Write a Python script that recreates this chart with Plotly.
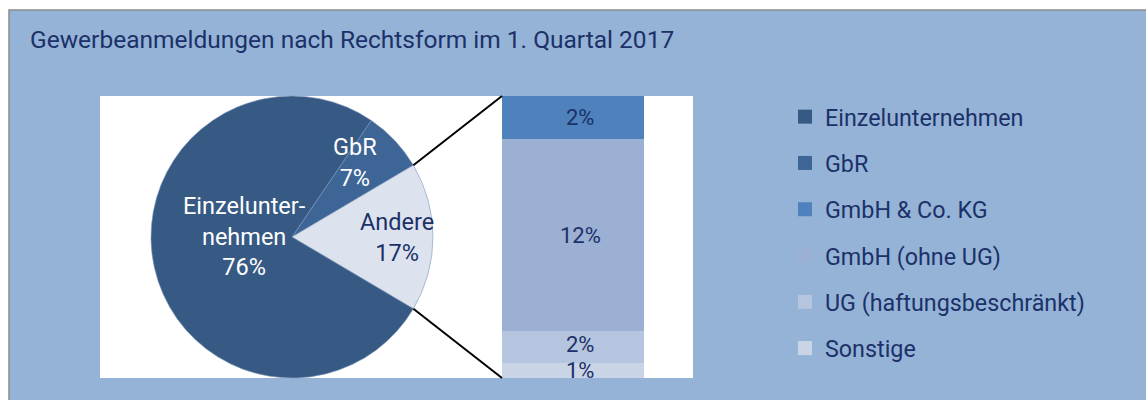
import math
import plotly.graph_objects as go

W, H = 1146, 400

# ---------------- data ----------------
pie_labels = ["Einzelunternehmen", "GbR", "Andere"]
pie_values = [76, 7, 17]
pie_texts = ["Einzelunter-<br>nehmen<br>76%", "GbR<br>7%", "Andere<br>17%"]

bar_labels = ["GmbH & Co. KG", "GmbH (ohne UG)", "UG (haftungsbeschränkt)", "Sonstige"]
bar_values = [2.6, 11.5, 1.9, 0.9]
bar_texts = ["2%", "12%", "2%", "1%"]

legend_labels = ["Einzelunternehmen", "GbR", "GmbH & Co. KG", "GmbH (ohne UG)",
                 "UG (haftungsbeschränkt)", "Sonstige"]
title_text = "Gewerbeanmeldungen nach Rechtsform im 1. Quartal 2017"

# ---------------- styles ----------------
NAVY = "#1B3168"
PANEL = "#95B3D7"
FONT = "Roboto, Open Sans, sans-serif"
pie_colors = ["#365A84", "#3D6596", "#DCE3EF"]
bar_colors = ["#4F81BD", "#9BB0D2", "#B6C5DF", "#CAD4E7"]
legend_colors = pie_colors[:2] + bar_colors
pie_text_colors = ["white", "white", NAVY]
bar_label_shift = [0, 0, 3, 0]


def px(x):
    return x / W


def py(y):
    return 1 - y / H


# geometry (pixels)
PIE_X0, PIE_X1, PIE_Y0, PIE_Y1 = 151, 433, 96, 378
BAR_X0, BAR_X1 = 502, 644

fig = go.Figure()

# rotation so that "Andere" is centred at 3 o'clock (clockwise: GbR, Andere, Einzel)
tot = sum(pie_values)
andere_frac = pie_values[2] / tot
gbr_frac = pie_values[1] / tot
rotation = 90 - 360 * (andere_frac / 2 + gbr_frac)
order = [1, 2, 0]
fig.add_trace(go.Pie(
    labels=[pie_labels[i] for i in order],
    values=[pie_values[i] for i in order],
    marker=dict(colors=[pie_colors[i] for i in order],
                line=dict(color="#7F97BA", width=0.6)),
    sort=False, direction="clockwise", rotation=rotation,
    textinfo="none", showlegend=False, hoverinfo="label+percent",
    domain=dict(x=[px(PIE_X0), px(PIE_X1)], y=[py(PIE_Y1), py(PIE_Y0)]),
))

annotations = []

# stacked bar (bottom to top), labels at segment centres in data coordinates
base = 0.0
for i in reversed(range(len(bar_labels))):
    fig.add_trace(go.Bar(
        x=[0], y=[bar_values[i]], width=1, name=bar_labels[i],
        marker=dict(color=bar_colors[i], line=dict(width=0)),
        showlegend=False, xaxis="x", yaxis="y",
    ))
    annotations.append(dict(x=0.05, y=base + bar_values[i] / 2, xref="x", yref="y",
                            text=bar_texts[i], showarrow=False,
                            xanchor="center", yanchor="middle",
                            yshift=bar_label_shift[i],
                            font=dict(size=22, color=NAVY, family=FONT)))
    base += bar_values[i]

# legend entries
for i, lab in enumerate(legend_labels):
    fig.add_trace(go.Scatter(
        x=[None], y=[None], mode="markers", name=lab, legendgroup=lab,
        marker=dict(symbol="square", size=14, color=legend_colors[i]),
        xaxis="x", yaxis="y",
    ))

# pie labels
cx = (PIE_X0 + PIE_X1) / 2
cy = (PIE_Y0 + PIE_Y1) / 2
r = (PIE_X1 - PIE_X0) / 2
label_pos = [(244, 236), (355, 162), (397, 237)]
for (lx, ly), t, c in zip(label_pos, pie_texts, pie_text_colors):
    annotations.append(dict(x=px(lx), y=py(ly), xref="paper", yref="paper",
                            text=t, showarrow=False, xanchor="center", yanchor="middle",
                            font=dict(size=23.5, color=c, family=FONT)))
annotations.append(dict(x=px(28), y=py(40), xref="paper", yref="paper",
                        text=title_text, showarrow=False, xanchor="left", yanchor="middle",
                        font=dict(size=24.5, color=NAVY, family=FONT)))

# connector lines from pie edge of "Andere" to bar corners
half = math.radians(360 * andere_frac / 2)
ex = cx + r * math.cos(half)
ey_top = cy - r * math.sin(half)
ey_bot = cy + r * math.sin(half)
shapes = [
    dict(type="rect", xref="paper", yref="paper", x0=px(9), x1=1.01, y0=-0.01, y1=py(10),
         fillcolor=PANEL, line=dict(color="#8C8C8C", width=1.5), layer="below"),
    dict(type="rect", xref="paper", yref="paper", x0=px(100), x1=px(693), y0=py(378), y1=py(96),
         fillcolor="white", line=dict(width=0), layer="below"),
    dict(type="line", xref="paper", yref="paper", x0=px(ex), y0=py(ey_top), x1=px(BAR_X0), y1=py(PIE_Y0),
         line=dict(color="black", width=2)),
    dict(type="line", xref="paper", yref="paper", x0=px(ex), y0=py(ey_bot), x1=px(BAR_X0), y1=py(PIE_Y1),
         line=dict(color="black", width=2)),
]

fig.update_layout(
    width=W, height=H, margin=dict(l=0, r=0, t=0, b=0),
    paper_bgcolor="white", plot_bgcolor="rgba(0,0,0,0)",
    barmode="stack", bargap=0,
    xaxis=dict(domain=[px(BAR_X0), px(BAR_X1)], range=[-0.5, 0.5], visible=False, fixedrange=True),
    yaxis=dict(domain=[py(PIE_Y1), py(PIE_Y0)], range=[0, sum(bar_values)], visible=False, fixedrange=True),
    legend=dict(x=px(785), y=py(95), xanchor="left", yanchor="top",
                traceorder="grouped", tracegroupgap=13, bgcolor="rgba(0,0,0,0)",
                font=dict(size=23.3, color=NAVY, family=FONT), itemclick=False),
    annotations=annotations, shapes=shapes,
    font=dict(family=FONT, color=NAVY),
)

fig.write_html("out.html")
